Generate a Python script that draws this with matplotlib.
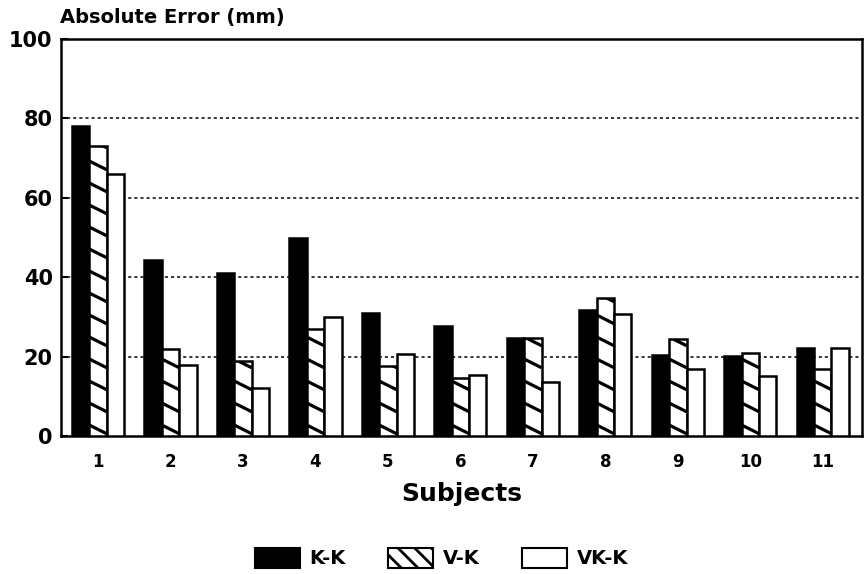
import matplotlib
matplotlib.use("Agg")
import matplotlib.pyplot as plt
import numpy as np
from matplotlib.patches import Patch

subjects = ["1", "2", "3", "4", "5", "6", "7", "8", "9", "10", "11"]
series_names = ["K-K", "V-K", "VK-K"]
kk = [78, 44.3, 41, 50, 31, 27.7, 24.7, 31.7, 20.4, 20.2, 22.2]
vk = [73, 22, 19, 27, 17.6, 14.6, 24.7, 34.8, 24.4, 21, 17]
vkk = [66, 18, 12, 30, 20.6, 15.4, 13.6, 30.7, 17, 15, 22.2]
yticks = [0, 20, 40, 60, 80, 100]

plt.rcParams["font.family"] = ["DejaVu Sans"]
plt.rcParams["font.weight"] = "bold"
plt.rcParams["hatch.linewidth"] = 2.0

fig = plt.figure(figsize=(8.64, 5.74), dpi=100)
ax = fig.add_axes([0.0706, 0.2404, 0.927, 0.6916])
ax.set_xlim(0.49, 11.54)
ax.set_ylim(0, 100)

x = np.arange(1, len(subjects) + 1)
w = 0.24
styles = [
    dict(facecolor="black", edgecolor="black"),
    dict(facecolor="white", edgecolor="black"),
    dict(facecolor="white", edgecolor="black"),
]
containers = []
for i, (vals, st) in enumerate(zip([kk, vk, vkk], styles)):
    containers.append(ax.bar(x + (i - 1) * w, vals, width=w, linewidth=1.8,
                             zorder=3, **st))

# Sparse, shallow diagonal stripes inside the V-K bars
fig.canvas.draw()
to_disp = ax.transData
px_per_x = to_disp.transform((1, 0))[0] - to_disp.transform((0, 0))[0]
px_per_y = to_disp.transform((0, 1))[1] - to_disp.transform((0, 0))[1]
slope = -0.5 * px_per_x / px_per_y      # data units of y per unit of x
step = 22 / px_per_y                    # vertical spacing between stripes
for rect in containers[1]:
    x0, bw, h = rect.get_x(), rect.get_width(), rect.get_height()
    drop = -slope * bw
    for c in np.arange(step * 0.5, h + drop, step):
        ln, = ax.plot([x0, x0 + bw], [c, c - drop], color="black",
                      linewidth=2.3, solid_capstyle="butt", zorder=3.5)
        ln.set_clip_path(rect)

ax.set_yticks(yticks)
ax.set_yticklabels([str(t) for t in yticks], fontsize=15, fontweight="bold")
ax.set_xticks(x)
ax.set_xticklabels(subjects, fontsize=12, fontweight="bold")
ax.tick_params(axis="x", length=0, pad=12)
ax.tick_params(axis="y", length=5, width=1.5, direction="in", pad=6)
for t in [20, 40, 60, 80]:
    ax.axhline(t, color="black", linestyle=(0, (2, 2)), linewidth=1.1, zorder=1)
for s in ax.spines.values():
    s.set_linewidth(1.8)

ax.set_xlabel("Subjects", fontsize=18, fontweight="bold", labelpad=8)
fig.text(0.069, 0.953, "Absolute Error (mm)", fontsize=14, fontweight="bold",
         ha="left", va="bottom")

handles = [
    Patch(facecolor="black", edgecolor="black", linewidth=1.5),
    Patch(facecolor="white", edgecolor="black", linewidth=1.5, hatch="\\\\"),
    Patch(facecolor="white", edgecolor="black", linewidth=1.5),
]
fig.legend(handles, series_names, loc="center", bbox_to_anchor=(0.511, 0.028),
           ncol=3, frameon=False, handlelength=2.3, handleheight=1.2,
           columnspacing=2.2, handletextpad=0.5,
           prop={"weight": "bold", "size": 14})

fig.savefig("out.png", dpi=100)
